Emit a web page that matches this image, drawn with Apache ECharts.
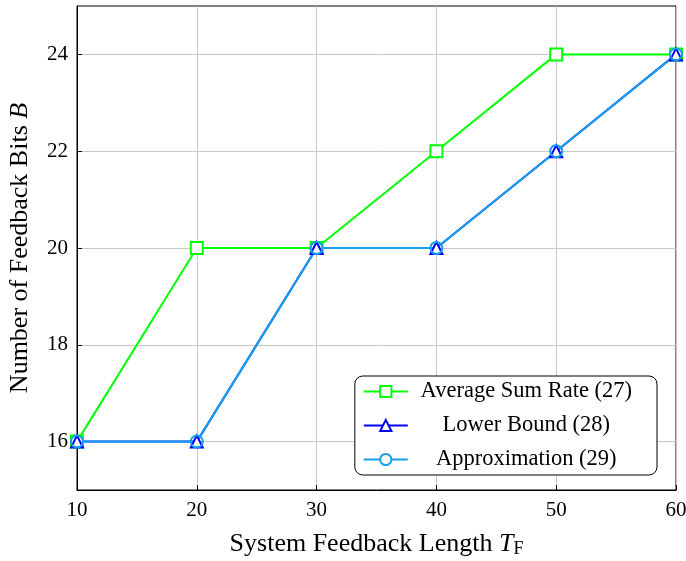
<!DOCTYPE html>
<html>
<head>
<meta charset="utf-8">
<script src="https://cdn.jsdelivr.net/npm/echarts@6/dist/echarts.min.js"></script>
<style>
  html, body { margin: 0; padding: 0; background: #fff; }
  #main { width: 686px; height: 561px; }
</style>
</head>
<body>
<div id="main"></div>
<script>
var feedbackLength = [10, 20, 30, 40, 50, 60]
var avgSumRate = [16, 20, 20, 22, 24, 24]
var lowerBound = [16, 16, 20, 20, 22, 24]
var approximation = [16, 16, 20, 20, 22, 24]
var yTicks = [16, 18, 20, 22, 24]

function pairs(ys) {
  return ys.map(function (y, i) { return [feedbackLength[i], y] })
}

var font = 'Liberation Serif'
var chart = echarts.init(document.getElementById('main'))
chart.setOption({
  animation: false,
  textStyle: { fontFamily: font },
  grid: {
    left: 77, right: 10, top: 6, bottom: 71,
    outerBoundsMode: 'none', containLabel: false,
    show: true, borderColor: '#000', borderWidth: 1
  },
  legend: {
    right: 29, bottom: 86,
    orient: 'vertical',
    backgroundColor: '#fff',
    borderColor: '#000', borderWidth: 1, borderRadius: 8,
    padding: [4, 25, 4, 8],
    itemGap: 11,
    itemWidth: 44, itemHeight: 14,
    formatter: function (n) { return '{t|' + n + '}' },
    textStyle: {
      fontFamily: font, fontSize: 22, color: '#000',
      rich: { t: { width: 227, align: 'center', fontFamily: font, fontSize: 22.5 } }
    },
    data: [
      { name: 'Average Sum Rate (27)', itemStyle: { color: '#fff', borderColor: '#00ff00', borderWidth: 2 } },
      { name: 'Lower Bound (28)', itemStyle: { color: '#fff', borderColor: '#0000ff', borderWidth: 2 } },
      { name: 'Approximation (29)', itemStyle: { color: '#fff', borderColor: '#14a0ee', borderWidth: 2 } }
    ]
  },
  xAxis: {
    type: 'value', min: 10, max: 60, interval: 10,
    name: '{n|System Feedback Length }{i|T}{s|F}',
    nameLocation: 'middle', nameGap: 40,
    nameTextStyle: {
      rich: {
        n: { fontFamily: font, fontSize: 26, color: '#000' },
        i: { fontFamily: font, fontSize: 26, fontStyle: 'italic', color: '#000' },
        s: { fontFamily: font, fontSize: 18, color: '#000', padding: [10, 0, 0, 0] }
      }
    },
    axisLine: { lineStyle: { color: '#000' } },
    axisTick: { inside: true, length: 5, lineStyle: { color: '#000' } },
    axisLabel: { color: '#000', fontSize: 21, margin: 10, fontFamily: font },
    splitLine: { lineStyle: { color: '#c8c8c8' } }
  },
  yAxis: {
    type: 'value', min: 15, max: 25,
    name: '{n|Number of Feedback Bits }{i|B}',
    nameLocation: 'middle', nameGap: 44, nameRotate: 90,
    nameTextStyle: {
      rich: {
        n: { fontFamily: font, fontSize: 26, color: '#000' },
        i: { fontFamily: font, fontSize: 26, fontStyle: 'italic', color: '#000' }
      }
    },
    axisLine: { show: true, lineStyle: { color: '#000' } },
    axisTick: { show: true, inside: true, length: 5, customValues: yTicks, lineStyle: { color: '#000' } },
    axisLabel: { color: '#000', fontSize: 21, margin: 9, fontFamily: font, customValues: yTicks },
    splitLine: { lineStyle: { color: '#c8c8c8' } }
  },
  series: [
    {
      name: 'Average Sum Rate (27)', type: 'line', data: pairs(avgSumRate),
      color: '#00ff00', symbol: 'rect', symbolSize: 12,
      lineStyle: { width: 2, color: '#00ff00' },
      itemStyle: { color: '#fff', borderColor: '#00ff00', borderWidth: 2 }
    },
    {
      name: 'Lower Bound (28)', type: 'line', data: pairs(lowerBound),
      color: '#0000ff', symbol: 'triangle', symbolSize: 12,
      lineStyle: { width: 2, color: '#0000ff' },
      itemStyle: { color: '#fff', borderColor: '#0000ff', borderWidth: 2 }
    },
    {
      name: 'Approximation (29)', type: 'line', data: pairs(approximation),
      color: '#14a0ee', symbol: 'circle', symbolSize: 12,
      lineStyle: { width: 2, color: '#14a0ee' },
      itemStyle: { color: 'rgba(255,255,255,0)', borderColor: '#14a0ee', borderWidth: 2 }
    }
  ]
})
</script>
</body>
</html>
